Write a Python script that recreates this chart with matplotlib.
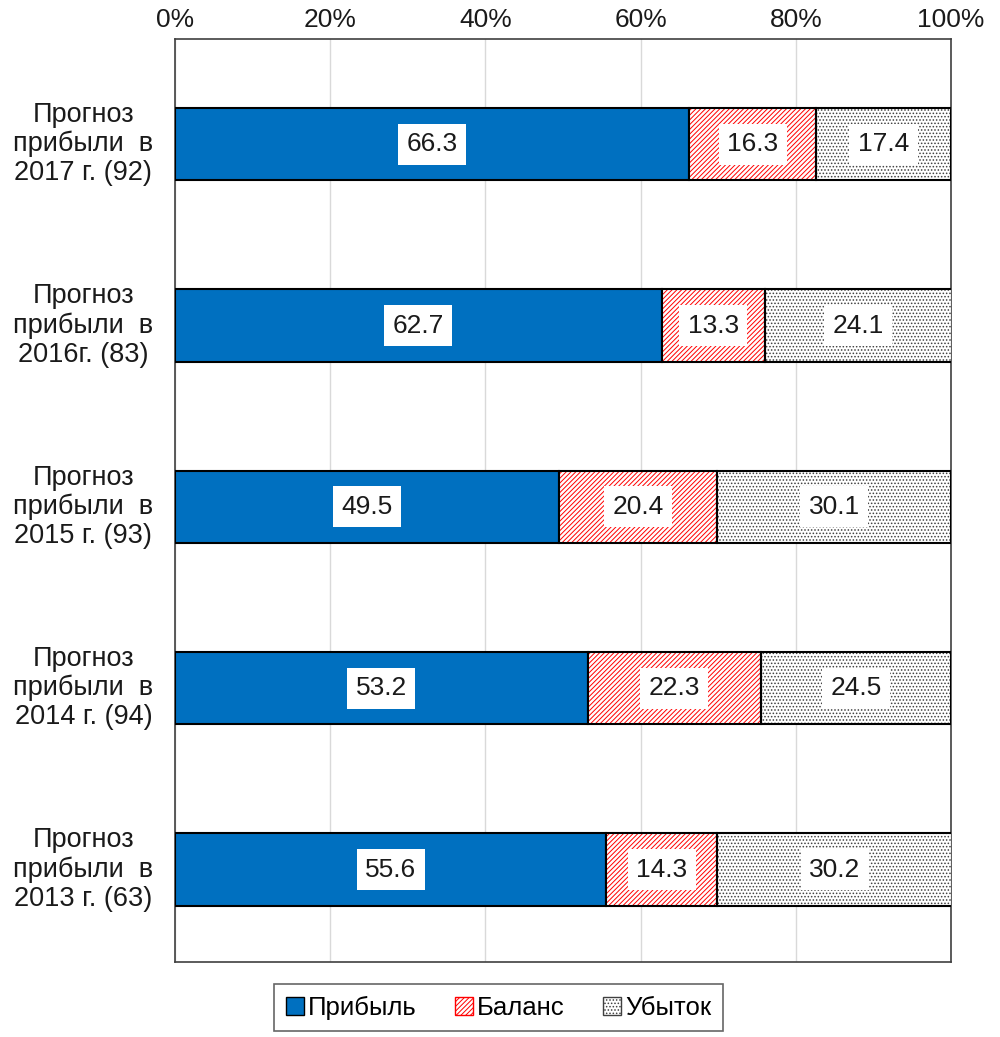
import matplotlib.pyplot as plt
from matplotlib.patches import Patch
import numpy as np

plt.rcParams['font.family'] = ['Liberation Sans', 'DejaVu Sans']
plt.rcParams['hatch.linewidth'] = 0.7

categories = ["Прогноз\nприбыли  в\n2017 г. (92)",
              "Прогноз\nприбыли  в\n2016г. (83)",
              "Прогноз\nприбыли  в\n2015 г. (93)",
              "Прогноз\nприбыли  в\n2014 г. (94)",
              "Прогноз\nприбыли  в\n2013 г. (63)"]
profit = [66.3, 62.7, 49.5, 53.2, 55.6]
balance = [16.3, 13.3, 20.4, 22.3, 14.3]
loss = [17.4, 24.1, 30.1, 24.5, 30.2]
series_names = ["Прибыль", "Баланс", "Убыток"]

fig = plt.figure(figsize=(10, 10.37), dpi=100)
ax = fig.add_axes([0.175, 0.0723, 0.776, 0.8901])

y = np.arange(len(categories))
h = 0.4
profit = np.array(profit)
balance = np.array(balance)
loss = np.array(loss)

ax.barh(y, profit, height=h, color='#0070C0', edgecolor='black', linewidth=1.5, zorder=3)
# hatched segments: hatch drawn in its own colour, black outline on top
ax.barh(y, balance, left=profit, height=h, color='white', edgecolor='#FF0000',
        hatch='///////', linewidth=0, zorder=3)
ax.barh(y, balance, left=profit, height=h, fill=False, edgecolor='black', linewidth=1.5, zorder=4)
ax.barh(y, loss, left=profit + balance, height=h, color='white', edgecolor='#404040',
        hatch='.....', linewidth=0, zorder=3)
ax.barh(y, loss, left=profit + balance, height=h, fill=False, edgecolor='black', linewidth=1.5, zorder=4)

box = dict(facecolor='white', edgecolor='none', pad=6)
for i in range(len(categories)):
    starts = [0, profit[i], profit[i] + balance[i]]
    for s, v in zip(starts, [profit[i], balance[i], loss[i]]):
        ax.text(s + v / 2, y[i], f"{v:.1f}", ha='center', va='center', fontsize=19,
                color='#1a1a1a', bbox=box, zorder=5)
    ax.text(-0.118, y[i], categories[i], transform=ax.get_yaxis_transform(),
            ha='center', va='center', fontsize=19.5, color='#1a1a1a', linespacing=1.15)

ax.set_xlim(0, 100)
ax.set_ylim(4.51, -0.58)
ax.set_yticks([])
ax.set_xticks(np.arange(0, 101, 20))
ax.set_xticklabels([f"{t}%" for t in range(0, 101, 20)])
ax.xaxis.tick_top()
ax.tick_params(axis='x', length=0, labelsize=19, pad=5, labelcolor='#1a1a1a')
ax.grid(axis='x', color='#d9d9d9', linewidth=1, zorder=0)
for sp in ax.spines.values():
    sp.set_color('#404040')
    sp.set_linewidth(1.2)

handles = [Patch(facecolor='#0070C0', edgecolor='black'),
           Patch(facecolor='white', edgecolor='#FF0000', hatch='///////'),
           Patch(facecolor='white', edgecolor='#404040', hatch='.....')]
leg = fig.legend(handles, series_names, loc='center', bbox_to_anchor=(0.4985, 0.0282),
                 ncol=3, fontsize=18.5, frameon=True, fancybox=False, handlelength=0.7,
                 handleheight=0.7, handletextpad=0.15, columnspacing=1.5, borderpad=0.45)
leg.get_frame().set_edgecolor('#404040')
leg.get_frame().set_linewidth(1.2)

fig.savefig('out.png', dpi=100)
